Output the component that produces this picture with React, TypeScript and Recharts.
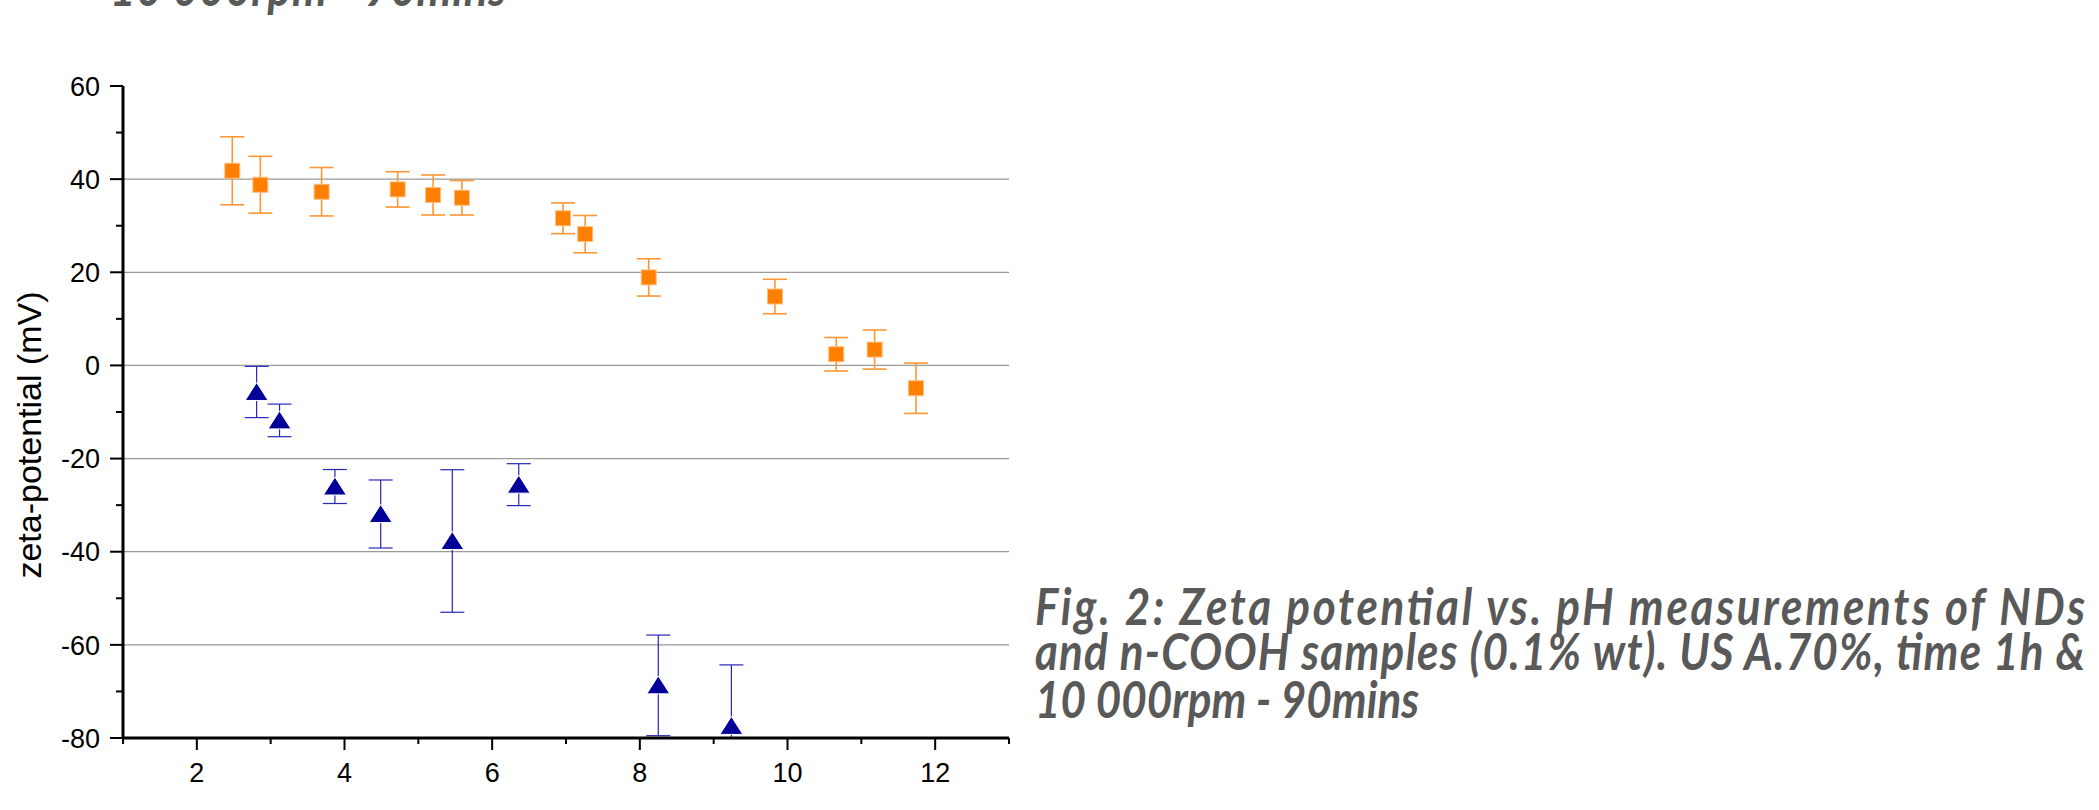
import React from 'react';
import { ScatterChart, Scatter, XAxis, YAxis, ErrorBar, ReferenceLine } from 'recharts';

// n-COOH samples (orange squares)
const phCooh = [2.48, 2.86, 3.69, 4.72, 5.2, 5.59, 6.96, 7.26, 8.12, 9.83, 10.66, 11.18, 11.74];
const zetaCooh = [41.8, 38.8, 37.3, 37.8, 36.6, 36.0, 31.6, 28.2, 18.9, 14.8, 2.4, 3.4, -4.9];
const errCooh = [7.3, 6.1, 5.2, 3.8, 4.3, 3.7, 3.3, 4.0, 4.0, 3.7, 3.6, 4.2, 5.4];

// NDs (blue triangles)
const phNd = [2.81, 3.12, 3.87, 4.49, 5.46, 6.36, 8.25, 9.24];
const zetaNd = [-5.7, -11.8, -26.0, -31.9, -37.7, -25.6, -68.7, -77.4];
const errNd = [5.5, 3.5, 3.65, 7.3, 15.3, 4.5, 10.8, 13.1];

const xTicks = [1, 2, 3, 4, 5, 6, 7, 8, 9, 10, 11, 12, 13];
const yTicks = [-80, -70, -60, -50, -40, -30, -20, -10, 0, 10, 20, 30, 40, 50, 60];
const gridValues = [-60, -40, -20, 0, 20, 40];

const captionLines = [
  'Fig. 2: Zeta potential vs. pH measurements of NDs',
  'and n-COOH samples (0.1% wt). US A.70%, time 1h &',
  '10 000rpm - 90mins',
];
const prevCaptionTail = '10 000rpm - 90mins';

const coohData = phCooh.map((x, i) => ({ x, y: zetaCooh[i], err: errCooh[i] }));
const ndData = phNd.map((x, i) => ({ x, y: zetaNd[i], err: errNd[i] }));

const axisFont = '"Liberation Sans", Arial, sans-serif';
const captionFont = 'Lato, "Open Sans", sans-serif';

// plot box: left 123, top 86, right 1009, bottom 738
const clipCss = `.recharts-errorBars { clip-path: url(#plot-clip); }`;

const XTick = (props: any) => {
  const { x, y, payload } = props;
  const major = payload.value % 2 === 0;
  return (
    <g>
      <line x1={x} x2={x} y1={y} y2={y + (major ? 12 : 6)} stroke="#000" strokeWidth={2} />
      {major && (
        <text x={x} y={y + 44} textAnchor="middle" fontSize={27} fontFamily={axisFont} fill="#000">
          {payload.value}
        </text>
      )}
    </g>
  );
};

const YTick = (props: any) => {
  const { x, y, payload } = props;
  const major = payload.value % 20 === 0;
  return (
    <g>
      <line x1={x - (major ? 13 : 7)} x2={x} y1={y} y2={y} stroke="#000" strokeWidth={2} />
      {major && (
        <text x={x - 23} y={y} dy="0.36em" textAnchor="end" fontSize={27} fontFamily={axisFont} fill="#000">
          {payload.value}
        </text>
      )}
    </g>
  );
};

const Square = (p: any) => (
  <rect x={p.cx - 7.5} y={p.cy - 7.5} width={15} height={15} fill="#FF8000" stroke="#FFBE80" strokeWidth={1} />
);

const Triangle = (p: any) => (
  <polygon
    points={`${p.cx},${p.cy - 9.5} ${p.cx + 11.5},${p.cy + 8.5} ${p.cx - 11.5},${p.cy + 8.5}`}
    fill="#000099"
    stroke="#fff"
    strokeWidth={1}
  />
);

const App = () => {
  return (
    <div style={{ position: 'absolute', left: 0, top: 0, width: 2099, height: 810, background: '#fff' }}>
      <style>{clipCss}</style>
      <ScatterChart width={1020} height={810} margin={{ top: 86, right: 11, bottom: 0, left: 0 }}>
        <XAxis
          dataKey="x"
          type="number"
          domain={[1, 13]}
          ticks={xTicks}
          interval={0}
          height={72}
          tickSize={0}
          tickMargin={0}
          tickLine={false}
          tick={<XTick />}
          axisLine={{ stroke: '#000', strokeWidth: 3 }}
        />
        <XAxis
          xAxisId="top"
          orientation="top"
          type="number"
          domain={[1, 13]}
          height={0}
          tick={false}
          tickLine={false}
          axisLine={{ stroke: '#000', strokeWidth: 3 }}
        />
        <YAxis
          dataKey="y"
          type="number"
          domain={[-80, 60]}
          ticks={yTicks}
          interval={0}
          allowDataOverflow
          width={123}
          tickSize={0}
          tickMargin={0}
          tickLine={false}
          tick={<YTick />}
          axisLine={{ stroke: '#000', strokeWidth: 3 }}
          label={{
            content: () => (
              <text
                x={41}
                y={435}
                transform="rotate(-90 41 435)"
                textAnchor="middle"
                fontSize={34}
                fontFamily={axisFont}
                fill="#000"
              >
                zeta-potential (mV)
              </text>
            ),
          }}
        />
        <YAxis
          yAxisId="right"
          orientation="right"
          type="number"
          domain={[-80, 60]}
          width={0}
          tick={false}
          tickLine={false}
          axisLine={{ stroke: '#000', strokeWidth: 3 }}
        />
        {gridValues.map((v) => (
          <ReferenceLine key={v} y={v} stroke="#9a9a9a" strokeWidth={1.2} />
        ))}
        <Scatter data={coohData} shape={<Square />} isAnimationActive={false}>
          <ErrorBar dataKey="err" direction="y" width={12} stroke="#FF9633" strokeWidth={1.6} />
        </Scatter>
        <Scatter data={ndData} shape={<Triangle />} isAnimationActive={false}>
          <ErrorBar dataKey="err" direction="y" width={12} stroke="#2727B8" strokeWidth={1.2} />
        </Scatter>
      </ScatterChart>
      <svg
        width={2099}
        height={810}
        style={{ position: 'absolute', left: 0, top: 0, pointerEvents: 'none' }}
      >
        <defs>
          <clipPath id="plot-clip" clipPathUnits="userSpaceOnUse">
            <rect x={123} y={86} width={886} height={652} />
          </clipPath>
        </defs>
        <g fontFamily={captionFont} fontWeight="bold" fontStyle="italic" fontSize={44} fill="#595959">
          <text transform="translate(110,6) scale(1,1.165)" textLength={396} lengthAdjust="spacing">
            {prevCaptionTail}
          </text>
          <text transform="translate(1035,625) scale(1,1.165)" textLength={1050} lengthAdjust="spacing">
            {captionLines[0]}
          </text>
          <text transform="translate(1035,670) scale(1,1.165)" textLength={1050} lengthAdjust="spacing">
            {captionLines[1]}
          </text>
          <text transform="translate(1035,718) scale(1,1.165)">{captionLines[2]}</text>
        </g>
      </svg>
    </div>
  );
};

export default App;
